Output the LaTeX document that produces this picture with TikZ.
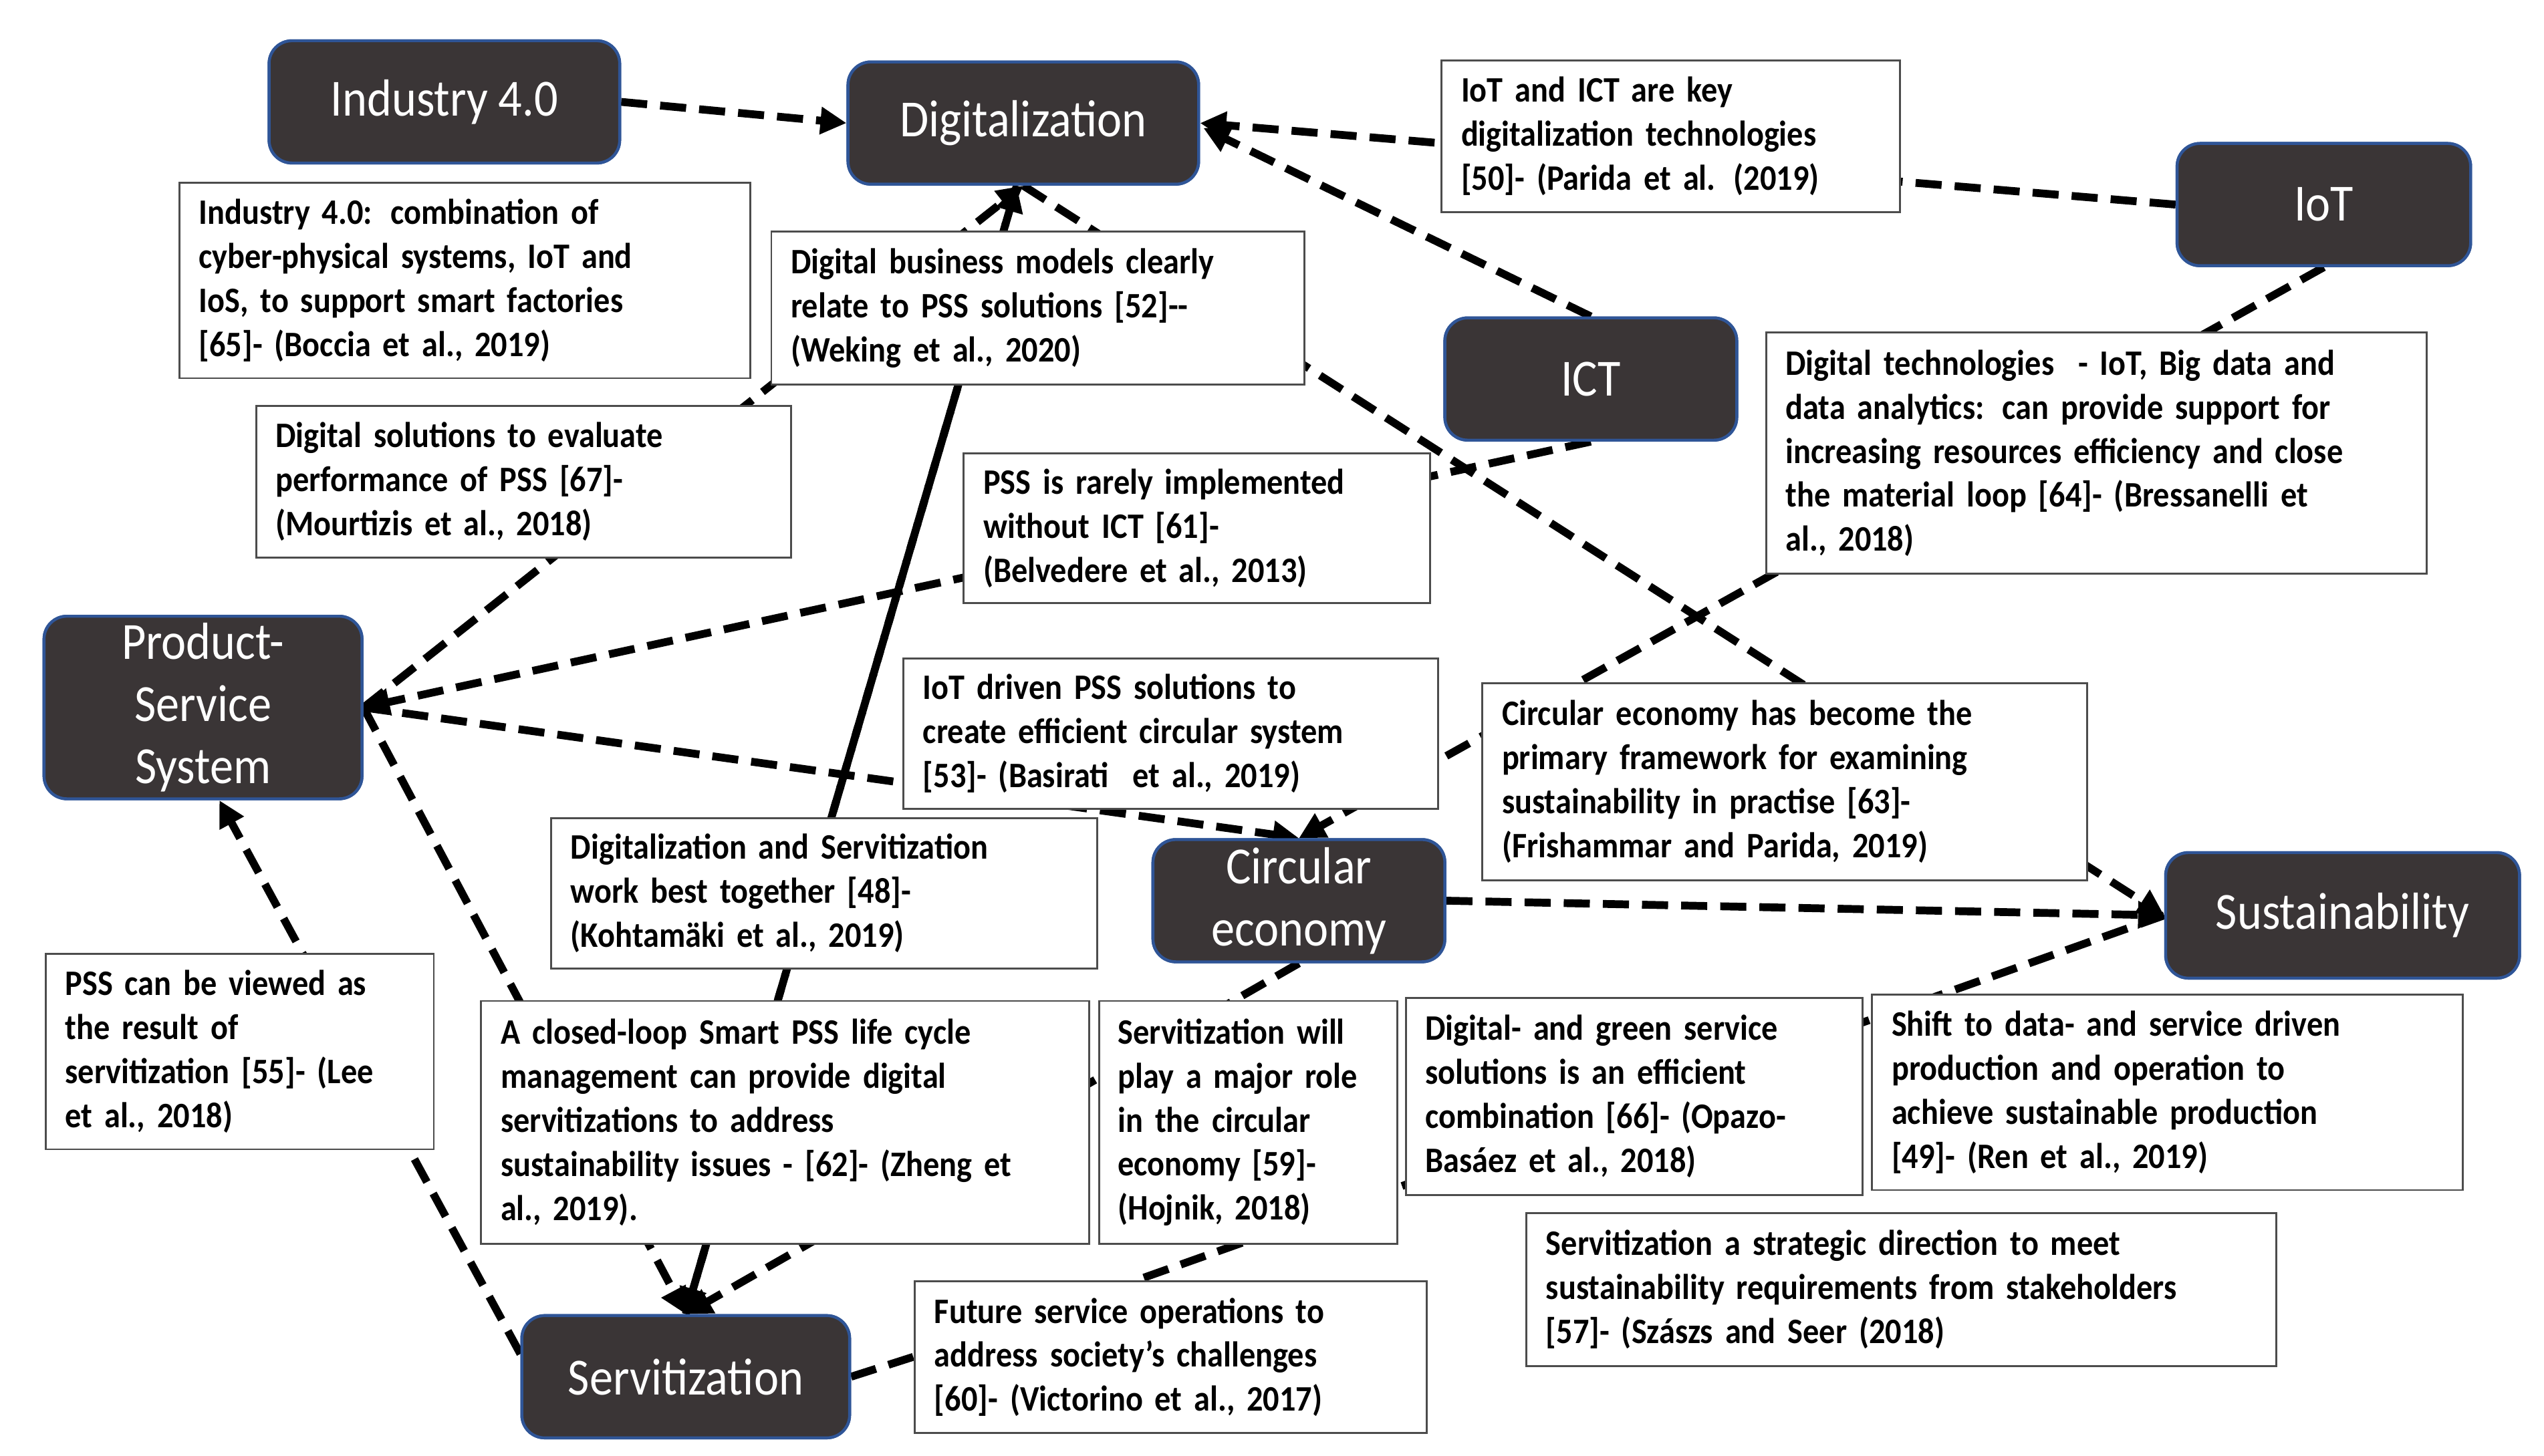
\documentclass[tikz,border=0pt]{standalone}
\usepackage{fontspec}
\setmainfont{Carlito}
\newfontfamily\cfont{Carlito}[FakeStretch=0.9]
\usetikzlibrary{arrows.meta,calc}
\definecolor{nodefill}{HTML}{3A3536}
\definecolor{nodeedge}{HTML}{2F5597}
\begin{document}
\begin{tikzpicture}[x=0.5pt,y=-0.5pt,
  dk/.style={draw=nodeedge,line width=0.9pt,fill=nodefill,rounded corners=7pt,text=white,
    font=\cfont\fontsize{16}{19}\selectfont,align=center,inner sep=0pt},
  tb/.style={draw=black!70,line width=0.6pt,fill=white,align=left,inner xsep=6pt,inner ysep=0pt,
    font=\cfont\bfseries\fontsize{11}{13.5}\selectfont},
  cn/.style={line width=2.4pt,dash pattern=on 8pt off 4pt,black},
  ar/.style={cn,-{Triangle[length=8pt,width=8pt]}}]
\useasboundingbox (0,0) rectangle (1560,893);
% dark nodes (coordinates only first, drawn later on top)
\path (272.5,62.5) coordinate (cind) (627.5,75.5) coordinate (cdig) (1425,125.5) coordinate (ciot)
 (975.5,232.5) coordinate (cict) (124.5,434) coordinate (cpss) (796.5,552.5) coordinate (cce)
 (1436.5,561.5) coordinate (csus) (420.5,844.5) coordinate (cserv);
\node[dk,minimum width=107.5pt,minimum height=37.5pt] (ind) at (cind) {Industry 4.0};
\node[dk,minimum width=107.5pt,minimum height=37.5pt] (dig) at (cdig) {Digitalization};
\node[dk,minimum width=90pt,minimum height=37.5pt] (iot) at (ciot) {IoT};
\node[dk,minimum width=89.5pt,minimum height=37.5pt] (ict) at (cict) {ICT};
\node[dk,minimum width=97.5pt,minimum height=56pt] (pss) at (cpss) {Product-\\Service\\System};
\node[dk,minimum width=89.5pt,minimum height=37.5pt] (ce) at (cce) {Circular\\economy};
\node[dk,minimum width=108.5pt,minimum height=38.5pt] (sus) at (csus) {Sustainability};
\node[dk,minimum width=100.5pt,minimum height=37.5pt] (serv) at (cserv) {Servitization};
% connectors
\draw[ar] (ind.east) -- (dig.west);
\draw[ar] (iot.west) -- (dig.east);
\draw[ar] (ict.north) -- ($(dig.east)+(2,3)$);
\draw[ar] (pss.east) -- (dig.south);
\draw[ar] (dig.south) -- (sus.west);
\draw[ar] (ict.south) -- (pss.east);
\draw[ar] (pss.east) -- (ce.north);
\draw[ar] (iot.south) -- (ce.north);
\draw[ar] (pss.east) -- (serv.north);
\draw[ar] ($(dig.south)+(-4,0)$) -- (serv.north);
\draw[ar] (serv.north) -- ($(dig.south)+(-4,0)$);
\draw[ar] (ce.south) -- (serv.north);
\draw[ar] ($(serv.west)+(0,-14)$) -- ($(pss.south)+(10,0)$);
\draw[ar] (ce.east) -- (sus.west);
\coordinate (b16top) at (695,786);
\draw[cn] (sus.west) -- (b16top);
\coordinate (b16l) at (561,832);
\draw[cn] (serv.east) -- (b16l);
% text boxes
\node[tb,minimum width=175pt,minimum height=60pt,text width=163pt] (b1) at (285,172) {Industry 4.0: combination of\\cyber-physical systems, IoT and\\IoS, to support smart factories\\{}[65]- (Boccia et al., 2019)};
\node[tb,minimum width=163.5pt,minimum height=47pt,text width=151.5pt] (b2) at (636.5,189) {Digital business models clearly\\relate to PSS solutions [52]--\\(Weking et al., 2020)};
\node[tb,minimum width=140.5pt,minimum height=46.5pt,text width=128.5pt] (b3) at (1024.5,83.5) {IoT and ICT are key\\digitalization technologies\\{}[50]- (Parida et al. (2019)};
\node[tb,minimum width=164pt,minimum height=46.5pt,text width=152pt] (b4) at (321,295.5) {Digital solutions to evaluate\\performance of PSS [67]-\\(Mourtizis et al., 2018)};
\node[tb,minimum width=143pt,minimum height=46pt,text width=131pt] (b5) at (734,324) {PSS is rarely implemented\\without ICT [61]-\\(Belvedere et al., 2013)};
\node[tb,minimum width=202.5pt,minimum height=74pt,text width=190.5pt] (b6) at (1285.5,278) {Digital technologies~ - IoT, Big data and\\data analytics: can provide support for\\increasing resources efficiency and close\\the material loop [64]- (Bressanelli et\\al., 2018)};
\node[tb,minimum width=164pt,minimum height=46pt,text width=152pt] (b7) at (718,450) {IoT driven PSS solutions to\\create efficient circular system\\{}[53]- (Basirati~ et al., 2019)};
\node[tb,minimum width=185.5pt,minimum height=60.5pt,text width=173.5pt] (b8) at (1094.5,479.5) {Circular economy has become the\\primary framework for examining\\sustainability in practise [63]-\\(Frishammar and Parida, 2019)};
\node[tb,minimum width=167.5pt,minimum height=46pt,text width=155.5pt] (b9) at (505.5,548) {Digitalization and Servitization\\work best together [48]-\\(Kohtamäki et al., 2019)};
\node[tb,minimum width=119pt,minimum height=60pt,text width=107pt] (b10) at (147,645) {PSS can be viewed as\\the result of\\servitization [55]- (Lee\\et al., 2018)};
\node[tb,minimum width=186.5pt,minimum height=74.5pt,text width=174.5pt] (b11) at (481.5,688.5) {A closed-loop Smart PSS life cycle\\management can provide digital\\servitizations to address\\sustainability issues - [62]- (Zheng et\\al., 2019).};
\node[tb,minimum width=91.5pt,minimum height=74.5pt,text width=80pt,inner xsep=5pt] (b12) at (765.5,688.5) {Servitization will\\play a major role\\in the circular\\economy [59]-\\(Hojnik, 2018)};
\node[tb,minimum width=140pt,minimum height=60.5pt,text width=128pt] (b13) at (1002,672.5) {Digital- and green service\\solutions is an efficient\\combination [66]- (Opazo-\\Basáez et al., 2018)};
\node[tb,minimum width=181pt,minimum height=60pt,text width=169pt] (b14) at (1329,670) {Shift to data- and service driven\\production and operation to\\achieve sustainable production\\{}[49]- (Ren et al., 2019)};
\node[tb,minimum width=230pt,minimum height=47pt,text width=218pt] (b15) at (1166,791) {Servitization a strategic direction to meet\\sustainability requirements from stakeholders\\{}[57]- (Szászs and Seer (2018)};
\node[tb,minimum width=157pt,minimum height=46.5pt,text width=145pt] (b16) at (718,832.5) {Future service operations to\\address society’s challenges\\{}[60]- (Victorino et al., 2017)};
% redraw dark nodes on top
\node[dk,minimum width=107.5pt,minimum height=37.5pt] at (cind) {Industry 4.0};
\node[dk,minimum width=107.5pt,minimum height=37.5pt] at (cdig) {Digitalization};
\node[dk,minimum width=90pt,minimum height=37.5pt] at (ciot) {IoT};
\node[dk,minimum width=89.5pt,minimum height=37.5pt] at (cict) {ICT};
\node[dk,minimum width=97.5pt,minimum height=56pt] at (cpss) {Product-\\Service\\System};
\node[dk,minimum width=89.5pt,minimum height=37.5pt] at (cce) {Circular\\economy};
\node[dk,minimum width=108.5pt,minimum height=38.5pt] at (csus) {Sustainability};
\node[dk,minimum width=100.5pt,minimum height=37.5pt] at (cserv) {Servitization};
\end{tikzpicture}
\end{document}
